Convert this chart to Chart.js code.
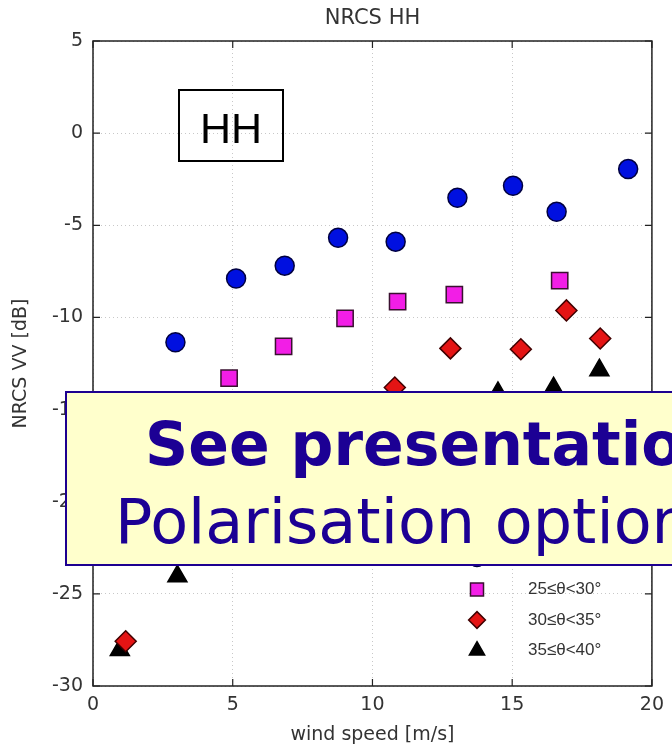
<!doctype html>
<html>
<head>
<title>NRCS HH</title>
<script src="https://cdn.jsdelivr.net/npm/chart.js@4/dist/chart.umd.min.js"></script>
<style>
    body {
        margin: 0;
        background: #fff;
    }
    .wrap {
        position: relative;
        width: 672px;
        height: 748px;
        overflow: hidden;
    }
    .hh-box {
        position: absolute;
        left: 178px;
        top: 89px;
        width: 102px;
        height: 69px;
        border: 2px solid #000;
    }
    .hh-text {
        position: absolute;
        left: 200px;
        top: 107px;
        font-family: 'Liberation Sans', Arial, sans-serif;
        font-size: 43px;
        line-height: 43px;
        color: #000;
    }
    .note {
        position: absolute;
        left: 65px;
        top: 391px;
        width: 660px;
        height: 171px;
        background: #ffffcc;
        border: 2px solid #1d0090;
    }
    .note-line {
        position: absolute;
        white-space: nowrap;
        font-family: 'DejaVu Sans', sans-serif;
        color: #1c0094;
    }
    .note-bold {
        left: 145px;
        top: 414px;
        font-size: 60px;
        line-height: 60px;
        font-weight: bold;
    }
    .note-plain {
        left: 115px;
        top: 491px;
        font-size: 62px;
        line-height: 62px;
    }
</style>
</head>
<body>
<div class="wrap">
    <canvas id="chart" width="672" height="748"></canvas>
    <div class="hh-box"></div>
    <div class="hh-text">HH</div>
    <div class="note"></div>
    <div class="note-line note-bold">See presentation</div>
    <div class="note-line note-plain">Polarisation options</div>
</div>
<script>
    // incidence angle classes
    var classLabels = ['20≤θ<25°', '25≤θ<30°', '30≤θ<35°', '35≤θ<40°'];

    // wind speed [m/s] and NRCS [dB] for each class
    var wind20 = [2.95, 5.12, 6.86, 8.77, 10.83, 13.04, 15.03, 16.59, 19.15];
    var nrcs20 = [-11.35, -7.89, -7.19, -5.68, -5.89, -3.51, -2.86, -4.27, -1.95];

    var wind25 = [4.87, 6.82, 9.02, 10.9, 12.93, 16.7];
    var nrcs25 = [-13.3, -11.57, -10.05, -9.14, -8.76, -8.0];

    var wind30 = [1.17, 10.8, 12.79, 15.31, 16.94, 18.15];
    var nrcs30 = [-27.57, -13.8, -11.68, -11.73, -9.62, -11.14];

    var wind35 = [0.96, 3.02, 14.49, 16.48, 18.12];
    var nrcs35 = [-28.05, -24.05, -14.1, -13.84, -12.86];

    var xTicks = [0, 5, 10, 15, 20];
    var yTicks = [5, 0, -5, -10, -15, -20, -25, -30];

    function toPoints(xs, ys) {
        return xs.map(function(x, i) { return {x: x, y: ys[i]}; });
    }

    var styles = [
        {pointStyle: 'circle', radius: 9.5, bg: '#0010e0', border: '#000040'},
        {pointStyle: 'rect', radius: 11.5, bg: '#f21ee6', border: '#3a1030'},
        {pointStyle: 'rectRot', radius: 10.5, bg: '#e41414', border: '#400000'},
        {pointStyle: 'triangle', radius: 11, bg: '#000000', border: '#000000'}
    ];

    var series = [
        toPoints(wind20, nrcs20),
        toPoints(wind25, nrcs25),
        toPoints(wind30, nrcs30),
        toPoints(wind35, nrcs35)
    ];

    var datasets = series.map(function(pts, i) {
        return {
            label: classLabels[i],
            data: pts,
            pointStyle: styles[i].pointStyle,
            pointRadius: styles[i].radius,
            pointHoverRadius: styles[i].radius,
            backgroundColor: styles[i].bg,
            borderColor: styles[i].border,
            pointBorderWidth: 1.5,
            clip: false
        };
    });

    // box, inward ticks, title, in-plot legend
    var frame = {
        id: 'frame',
        beforeDatasetsDraw: function(chart) {
            var ctx = chart.ctx, a = chart.chartArea;
            var xs = chart.scales.x, ys = chart.scales.y;
            ctx.save();
            ctx.strokeStyle = '#222';
            ctx.lineWidth = 1.5;
            ctx.strokeRect(a.left, a.top, a.right - a.left, a.bottom - a.top);
            ctx.lineWidth = 1.2;
            ctx.beginPath();
            xTicks.forEach(function(v) {
                var px = xs.getPixelForValue(v);
                ctx.moveTo(px, a.bottom); ctx.lineTo(px, a.bottom - 7);
                ctx.moveTo(px, a.top); ctx.lineTo(px, a.top + 7);
            });
            yTicks.forEach(function(v) {
                var py = ys.getPixelForValue(v);
                ctx.moveTo(a.left, py); ctx.lineTo(a.left + 7, py);
                ctx.moveTo(a.right, py); ctx.lineTo(a.right - 7, py);
            });
            ctx.stroke();
            ctx.fillStyle = '#333';
            ctx.font = '21px "DejaVu Sans"';
            ctx.textAlign = 'center';
            ctx.textBaseline = 'middle';
            ctx.fillText('NRCS HH', (a.left + a.right) / 2, 19);
            ctx.restore();
        },
        afterDatasetsDraw: function(chart) {
            var ctx = chart.ctx;
            var mx = 477, tx = 528, y0 = 559, step = 30.5;
            ctx.save();
            ctx.font = '17px "Liberation Sans"';
            ctx.textBaseline = 'middle';
            ctx.textAlign = 'left';
            styles.forEach(function(s, i) {
                var y = y0 + i * step;
                ctx.fillStyle = s.bg;
                ctx.strokeStyle = s.border;
                ctx.lineWidth = 1.5;
                Chart.helpers.drawPoint(ctx, {
                    pointStyle: s.pointStyle,
                    radius: s.radius * 0.8,
                    rotation: 0,
                    borderWidth: 1.5
                }, mx, y);
                ctx.fillStyle = '#333';
                ctx.fillText(classLabels[i], tx, y);
            });
            ctx.restore();
        }
    };

    Chart.defaults.font.family = '"DejaVu Sans", sans-serif';
    Chart.defaults.color = '#333';

    var config = {
        type: 'scatter',
        data: {datasets: datasets},
        options: {
            responsive: false,
            animation: false,
            layout: {
                padding: {top: 41, right: 16, left: 0, bottom: 0}
            },
            plugins: {
                legend: {display: false},
                title: {display: false},
                tooltip: {enabled: false}
            },
            scales: {
                x: {
                    type: 'linear',
                    min: 0,
                    max: 20,
                    afterFit: function(scale) { scale.height = 62; },
                    afterBuildTicks: function(scale) {
                        scale.ticks = xTicks.map(function(v) { return {value: v}; });
                    },
                    ticks: {
                        padding: 8,
                        font: {size: 19},
                        color: '#333',
                        maxRotation: 0
                    },
                    grid: {
                        color: '#c8c8c8',
                        lineWidth: 1,
                        drawTicks: false
                    },
                    border: {display: false, dash: [1, 3]},
                    title: {
                        display: true,
                        text: 'wind speed [m/s]',
                        font: {size: 19},
                        color: '#333',
                        padding: {top: 0, bottom: 2}
                    }
                },
                y: {
                    type: 'linear',
                    min: -30,
                    max: 5,
                    afterFit: function(scale) { scale.width = 93; },
                    afterBuildTicks: function(scale) {
                        scale.ticks = yTicks.slice().reverse().map(function(v) { return {value: v}; });
                    },
                    ticks: {
                        padding: 10,
                        font: {size: 19},
                        color: '#333'
                    },
                    grid: {
                        color: '#c8c8c8',
                        lineWidth: 1,
                        drawTicks: false
                    },
                    border: {display: false, dash: [1, 3]},
                    title: {
                        display: true,
                        text: 'NRCS VV [dB]',
                        font: {size: 19},
                        color: '#333',
                        padding: {top: 10, bottom: 0}
                    }
                }
            }
        },
        plugins: [frame]
    };

    window.onload = function() {
        var ctx = document.getElementById('chart').getContext('2d');
        window.nrcsChart = new Chart(ctx, config);
    };
</script>
</body>
</html>
